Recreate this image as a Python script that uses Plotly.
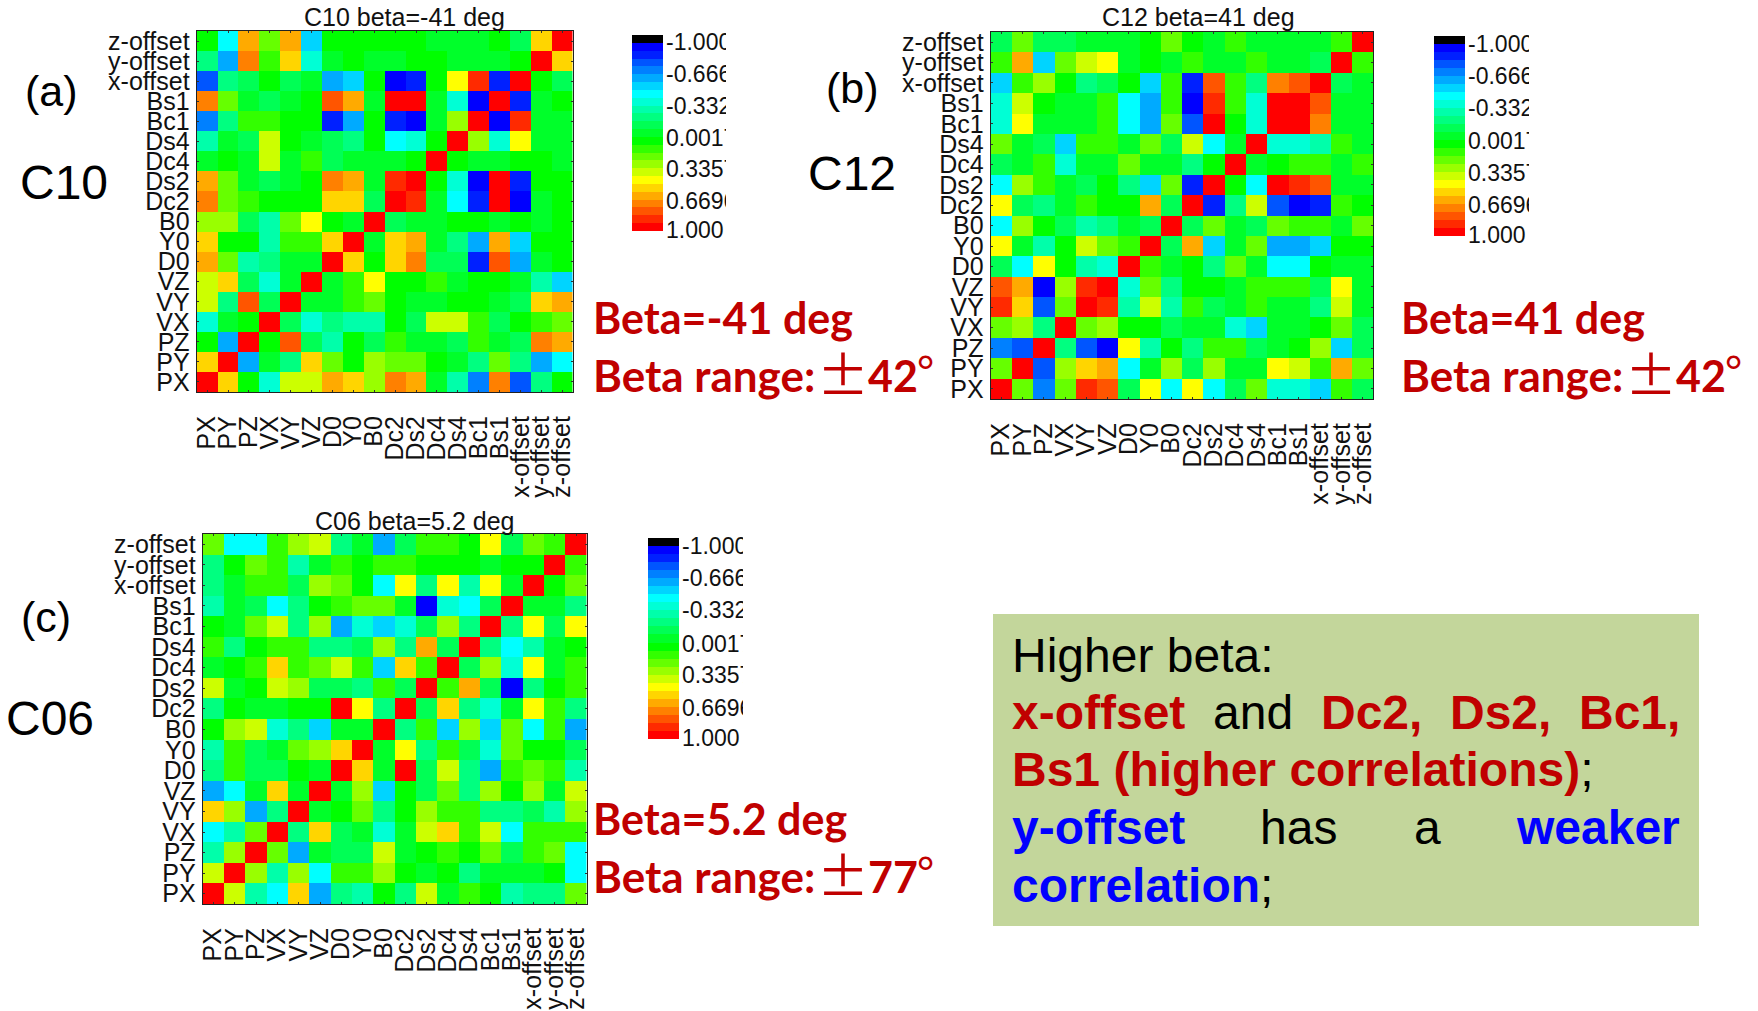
import plotly.graph_objects as go

W, H = 1758, 1011

PARAMS_X = ["PX", "PY", "PZ", "VX", "VY", "VZ", "D0", "Y0", "B0", "Dc2", "Ds2", "Dc4", "Ds4", "Bc1", "Bs1",
            "x-offset", "y-offset", "z-offset"]
PARAMS_Y = PARAMS_X[::-1]

# Correlation, as a colour-band level: 0 = green, 11 = red (+1), -12 = blue (-1).
C10_LEVELS = [
    [0, -6, 7, 2, 7, -7, 0, 0, 0, 0, 0, -1, -1, -1, 0, -2, 6, 11],
    [-3, -8, 8, 1, 6, -5, -1, 0, -1, -1, 0, 0, -1, -1, -1, 0, 11, 6],
    [-10, -3, -2, 0, -2, -1, -8, -7, 0, -12, -11, 0, 5, 10, -11, 11, 0, -2],
    [8, 2, -1, -2, -1, 0, 9, 7, -1, 11, 11, -1, -5, -12, 11, -11, -1, 0],
    [-9, -3, 1, 1, 0, 0, -11, -8, 0, -11, -12, -1, 3, 11, -12, 10, -1, -1],
    [-4, -1, -2, 4, 0, -1, -2, -3, 0, -6, -5, 0, 11, 3, -5, 5, -1, -1],
    [-1, 0, -1, 4, -1, 1, -2, -1, -1, -1, 0, 11, 0, -1, -1, 0, 0, -1],
    [7, 2, -1, -2, -1, 0, 8, 7, -1, 10, 11, 0, -5, -12, 11, -11, 0, 0],
    [8, 2, 1, 0, 0, 0, 6, 6, -2, 11, 10, -1, -6, -11, 11, -12, -1, 0],
    [3, 3, -2, -4, 2, 5, 0, -1, 11, -2, -1, -1, 0, 0, -1, 0, -1, 0],
    [6, 0, 0, -4, 1, 1, 6, 11, -1, 6, 7, -1, -3, -8, 7, -7, 0, 0],
    [7, 2, -4, -3, -1, -1, 11, 6, 0, 6, 8, -2, -2, -11, 9, -8, -1, 0],
    [4, 6, -2, -5, -1, 11, -1, 1, 5, 0, 0, 1, -1, 0, 0, -1, -4, -7],
    [4, -3, 9, -2, 11, -1, -1, 1, 2, 0, -1, -1, 0, 0, -1, -2, 6, 7],
    [-5, -1, 0, 11, -2, -5, -3, -4, -4, 0, -2, 4, 4, 1, -2, 0, 1, 2],
    [0, -8, 11, 0, 9, -2, -4, 0, -2, 1, -1, -1, -2, 1, -1, -2, 8, 7],
    [6, 11, -8, -1, -3, 6, 2, 0, 3, 2, 2, 0, -1, -3, 2, -3, -8, -6],
    [11, 6, 0, -5, 4, 4, 7, 6, 3, 8, 7, -1, -4, -9, 8, -10, -3, 0],
]
C12_LEVELS = [
    [-2, 2, -2, -2, -1, -1, -1, 0, 2, 0, -1, 1, -1, -1, -1, -1, 1, 11],
    [1, 7, -7, 2, 4, 5, -1, 0, -1, 1, -1, -1, 1, -1, -1, -2, 11, 1],
    [-7, 1, 3, 0, -3, -2, 0, -7, 1, -11, 9, 1, -3, 8, 9, 11, -2, -1],
    [-5, 4, 0, -1, -1, 1, -6, -8, 1, -12, 10, 1, -5, 11, 11, 9, -1, -1],
    [-5, 5, -1, -1, -1, 1, -6, -8, 2, -10, 11, 0, -5, 11, 11, 8, -1, -1],
    [2, -1, -2, -7, 1, 1, -1, 2, -2, 4, -6, -1, 11, -5, -5, -4, 1, -1],
    [-2, -1, 1, -5, -1, -1, 2, -1, -1, -3, 0, 11, -1, 0, 1, 1, -1, 1],
    [-6, 3, 1, -1, -2, 0, -3, -7, 2, -11, 11, 0, -6, 11, 10, 9, -1, -1],
    [5, -2, -3, -1, 1, 0, 0, 7, -2, 11, -11, -3, 4, -10, -12, -11, 1, 0],
    [-6, 3, 0, -2, -4, -3, -1, -2, 11, -2, 2, -1, -2, 2, 1, 1, -1, 2],
    [5, -1, -4, 0, 4, 2, 1, 11, -2, 7, -7, -1, 2, -8, -8, -7, 0, 0],
    [-2, -6, 5, 0, -4, -5, 11, 1, -1, 0, -3, 2, -1, -6, -6, 0, -1, -1],
    [9, 7, -12, 3, 10, 11, -5, 2, -3, 0, 0, -1, 1, 1, 1, -2, 5, -1],
    [10, 6, -10, 2, 11, 10, -4, 4, -4, 1, -2, -1, 1, -1, -1, -3, 4, -1],
    [2, 3, -3, 11, 2, 3, 0, 0, -2, -1, -1, -5, -7, -1, -1, 0, 2, -2],
    [-9, -10, 11, -3, -10, -12, 5, -4, 0, -3, 1, 1, -2, -1, 0, 3, -7, -2],
    [2, 11, -10, 3, 6, 7, -6, -1, 3, -2, 3, -1, -1, 5, 4, 1, 7, 2],
    [11, 2, -9, 2, 10, 9, -2, 5, -6, 5, -6, -2, 2, -5, -5, -7, 1, -2],
]
C06_LEVELS = [
    [2, -6, -6, 1, 3, 4, -3, -1, -8, -2, 1, 1, 0, 5, -2, 2, 1, 11],
    [-3, 0, 2, 1, -4, -1, 1, 0, 1, 1, 0, 0, 0, -1, 0, 0, 11, 1],
    [-3, -1, 1, 1, -2, 3, 2, 0, -6, 5, -3, 5, -4, 5, -1, 11, 0, 2],
    [-4, -1, -2, -6, -3, 0, 1, 2, 2, -1, -12, -5, -6, -2, 11, -1, -1, -3],
    [0, -1, 2, 4, -3, 3, -8, -5, -7, -5, -2, 3, -3, 11, -3, 5, -2, 5],
    [1, -3, 0, 1, 1, -3, -3, -2, 3, -3, 7, -2, 11, -3, -6, -4, -1, 0],
    [-1, 0, 1, 6, 1, 2, 4, 1, -7, 6, 1, 11, -2, 3, -5, 5, -1, 1],
    [4, -1, 0, 4, 3, -2, -2, -3, 1, -2, 11, 1, 7, -2, -12, -3, 0, 1],
    [-3, 0, -1, -1, 0, 0, 11, 5, -3, 11, -2, 6, -3, -5, -1, 5, 1, -3],
    [0, 3, 4, -5, -3, -7, -1, -1, 11, -3, 1, -7, 3, -7, 2, -6, 1, -8],
    [-4, 1, -2, -1, 2, 3, 6, 11, -1, 5, -3, 1, -2, -5, 2, 0, 0, -2],
    [-3, 1, -2, -2, 0, -1, 11, 6, -1, 11, -2, 4, -3, -8, 1, 2, 1, -4],
    [-8, -6, -1, 6, -1, 11, -1, 3, -7, 0, -2, 2, -3, 3, 0, 3, -1, 4],
    [6, 3, -8, -3, 11, -1, 0, 2, -3, 0, 3, 1, 1, -3, -3, -2, -4, 3],
    [-6, -4, 2, 11, -3, 6, -2, -1, -5, -1, 4, 6, 1, 4, -6, 1, 1, 1],
    [-4, 3, 11, 2, -8, -1, -2, -2, 4, -1, 0, 1, 0, 2, -2, 1, 2, -6],
    [4, 11, 3, -4, 3, -6, 1, 1, 3, 0, -1, 0, -3, -1, -1, -1, 0, -6],
    [11, 4, -4, -6, 6, -8, -3, -4, 0, -3, 4, -1, 1, 0, -4, -3, -3, 2],
]
BAR_LABELS = ["-1.000", "-0.666", "-0.332", "0.0017", "0.3357", "0.6696", "1.000"]
BAR_LABEL_AT = [-0.925, -0.60, -0.28, 0.05, 0.365, 0.69, 0.99]
BAND_COLORS = ["#000000", "#0000ff", "#0020ff", "#0055ff", "#0080ff", "#00aaff", "#00d4ff", "#00ffff", "#00ffd5",
               "#00ffaa", "#00ff80", "#00ff55", "#00ff2a", "#00ff00", "#33ff00", "#66ff00", "#99ff00", "#ccff00",
               "#ffff00", "#ffd500", "#ffaa00", "#ff8000", "#ff5500", "#ff2a00", "#ff0000"]
TITLES = ["C10 beta=-41 deg", "C12 beta=41 deg", "C06 beta=5.2 deg"]

N = len(BAND_COLORS)
STEP_SCALE = []
for k, c in enumerate(BAND_COLORS):
    STEP_SCALE += [[k / N, c], [(k + 1) / N, c]]


def to_z(levels):
    return [[(v + 1) * 2 / N for v in row] for row in levels]


def px(x):
    return x / W


def py(y):
    return 1 - y / H


SANS = "Liberation Sans, Arial, sans-serif"
AXFONT = dict(family=SANS, size=25, color="#111111")
fig = go.Figure()

# panel: (levels, heat box x0,x1,y0,y1, bar box x0,x1,y0,y1, clip x, title x,y)
PANELS = [
    (C10_LEVELS, (196.7, 572.7, 31, 392), (632, 663, 35, 231), 726, (404, 17)),
    (C12_LEVELS, (990.7, 1373.3, 32, 399), (1434, 1465, 36, 236), 1529, (1198, 17)),
    (C06_LEVELS, (202.7, 586.7, 534, 904), (648, 679, 538, 739), 743, (414, 521)),
]
layout = {}
shapes, annos = [], []
for i, (levels, hb, bb, clip, tpos) in enumerate(PANELS):
    a = 2 * i + 1
    b = 2 * i + 2
    fig.add_trace(go.Heatmap(z=to_z(levels), x=PARAMS_X, y=PARAMS_Y, zmin=-1, zmax=1, colorscale=STEP_SCALE,
                             showscale=False, xaxis=f"x{a}", yaxis=f"y{a}", xgap=0, ygap=0))
    layout[f"xaxis{a}"] = dict(domain=[px(hb[0]), px(hb[1])], anchor=f"y{a}", tickangle=-90, tickfont=AXFONT,
                               showline=True, linecolor="#222222", linewidth=1.2, mirror="allticks",
                               ticks="inside", ticklen=2, tickcolor="#333333", showgrid=False,
                               ticklabelstandoff=13, tickmode="array", tickvals=PARAMS_X, ticktext=PARAMS_X,
                               fixedrange=True)
    layout[f"yaxis{a}"] = dict(domain=[py(hb[3]), py(hb[2])], anchor=f"x{a}", autorange="reversed", tickfont=AXFONT,
                               showline=True, linecolor="#222222", linewidth=1.2, mirror="allticks",
                               ticks="inside", ticklen=2, tickcolor="#333333", showgrid=False,
                               tickmode="array", tickvals=PARAMS_Y, ticktext=PARAMS_Y, ticklabelstandoff=1,
                               fixedrange=True)
    centers = [-1 + (2 * k + 1) / N for k in range(N)]
    fig.add_trace(go.Heatmap(z=[[c] for c in centers], x=[0], y=centers, zmin=-1, zmax=1, colorscale=STEP_SCALE,
                             showscale=False, xaxis=f"x{b}", yaxis=f"y{b}"))
    layout[f"xaxis{b}"] = dict(domain=[px(bb[0]), px(bb[1])], anchor=f"y{b}", visible=False, fixedrange=True)
    layout[f"yaxis{b}"] = dict(domain=[py(bb[3]), py(bb[2])], anchor=f"x{b}", side="right", range=[1, -1],
                               tickmode="array", tickvals=BAR_LABEL_AT, ticktext=BAR_LABELS, ticks="",
                               showgrid=False, zeroline=False, showline=False, tickfont=dict(AXFONT, size=23),
                               ticklabelstandoff=2, fixedrange=True)
    shapes.append(dict(type="rect", xref="paper", yref="paper", x0=px(clip), x1=px(clip + 60),
                       y0=py(bb[3] + 14), y1=py(bb[2] - 14), fillcolor="white", line_width=0, layer="above"))
    annos.append(dict(text=TITLES[i], x=px(tpos[0]), y=py(tpos[1]), xref="paper", yref="paper",
                      showarrow=False, xanchor="center", yanchor="middle", font=AXFONT))


def text(t, x, y, size=48, color="#000000", family=SANS, anchor="left"):
    annos.append(dict(text=t, x=px(x), y=py(y), xref="paper", yref="paper", showarrow=False, xanchor=anchor,
                      yanchor="middle", align="left", font=dict(family=family, size=size, color=color),
                      borderpad=0))


for t, x, y in [("(a)", 24, 91), ("(b)", 825, 88), ("(c)", 20, 617)]:
    text(t, x, y, size=43)
for t, x, y in [("C10", 19, 182), ("C12", 807, 174), ("C06", 5, 718)]:
    text(t, x, y, size=48)

RED = "#c00000"
LATO = "Lato, Carlito, sans-serif"
CJK = "Noto Sans CJK SC, sans-serif"
for t, x, y in [("Beta=-41 deg", 592, 317), ("Beta=41 deg", 1400, 317), ("Beta=5.2 deg", 592, 818)]:
    text(f"<b>{t}</b>", x, y, size=43, color=RED, family=LATO)
for (rng, x, y) in [("42", 592, 375), ("42", 1400, 375), ("77", 592, 876)]:
    text("<b>Beta range:</b>", x, y, size=44, color=RED, family=LATO)
    text("±", x + 224, y - 3, size=52, color=RED, family=CJK)
    text(f"<b>{rng}</b>", x + 275, y, size=43, color=RED, family=LATO)
    text("°", x + 323, y - 3, size=48, color=RED, family=SANS)

shapes.append(dict(type="rect", xref="paper", yref="paper", x0=px(993), x1=px(1699), y0=py(926), y1=py(614),
                   fillcolor="#c3d69b", line_width=0, layer="below"))
BLUE = "#0000ff"
text("Higher beta:", 1011, 655)
text("<b>x-offset</b>", 1011, 712, color=RED)
text("and", 1212, 712)
text("<b>Dc2,</b>", 1320, 712, color=RED)
text("<b>Ds2,</b>", 1449, 712, color=RED)
text("<b>Bc1,</b>", 1578, 712, color=RED)
text(f'<b><span style="color:{RED}">Bs1 (higher correlations)</span></b>;', 1011, 769)
text("<b>y-offset</b>", 1011, 827, color=BLUE)
text("has", 1259, 827)
text("a", 1413, 827)
text("<b>weaker</b>", 1515, 827, color=BLUE)
text(f'<b><span style="color:{BLUE}">correlation</span></b>;', 1011, 885)

fig.update_layout(width=W, height=H, margin=dict(l=0, r=0, t=0, b=0, pad=0, autoexpand=False), paper_bgcolor="white",
                  plot_bgcolor="white", showlegend=False, shapes=shapes, annotations=annos, **layout)
fig.write_html("out.html", post_script="document.body.style.margin='0';document.body.style.overflow='hidden';",
               config=dict(displayModeBar=False))
